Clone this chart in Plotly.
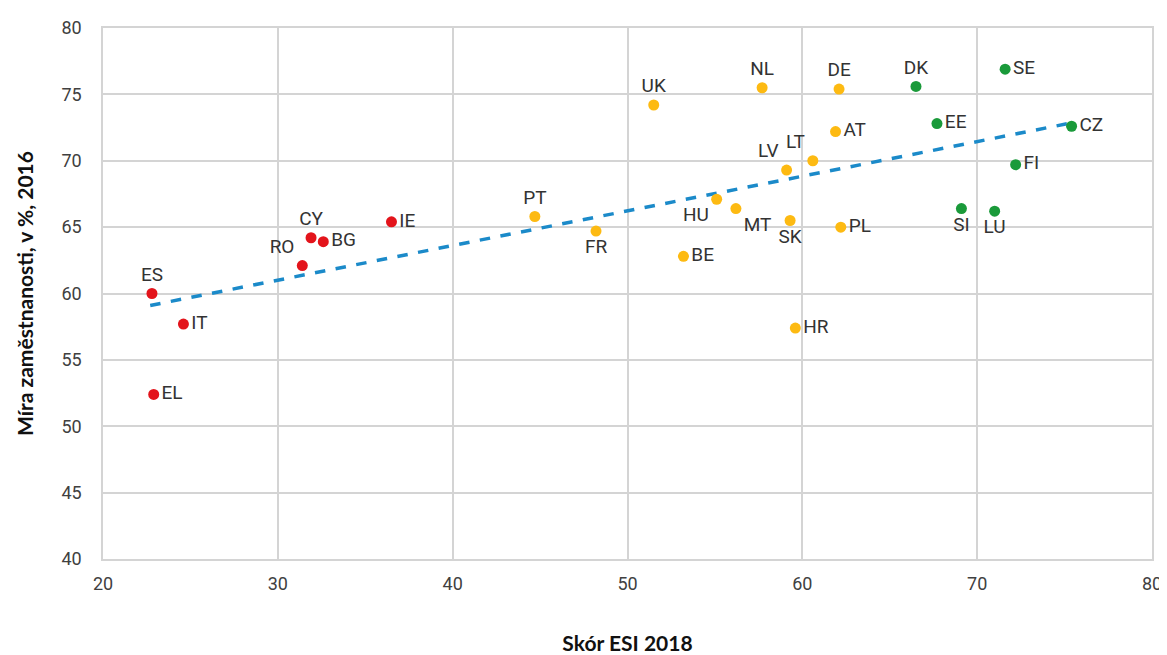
import plotly.graph_objects as go

# ---- data ----
countries = ["ES", "IT", "EL", "RO", "CY", "BG", "IE",
             "PT", "FR", "UK", "BE", "HU", "MT", "NL", "LV", "SK", "HR", "LT", "AT", "DE", "PL",
             "DK", "EE", "SI", "LU", "SE", "FI", "CZ"]
esi_score = [22.8, 24.6, 22.9, 31.4, 31.9, 32.6, 36.5,
             44.7, 48.2, 51.5, 53.2, 55.1, 56.2, 57.7, 59.1, 59.3, 59.6, 60.6, 61.9, 62.1, 62.2,
             66.5, 67.7, 69.1, 71.0, 71.6, 72.2, 75.4]
employment = [60.0, 57.7, 52.4, 62.1, 64.2, 63.9, 65.4,
              65.8, 64.7, 74.2, 62.8, 67.1, 66.4, 75.5, 69.3, 65.5, 57.4, 70.0, 72.2, 75.4, 65.0,
              75.6, 72.8, 66.4, 66.2, 76.9, 69.7, 72.6]
group = ["low"] * 7 + ["mid"] * 14 + ["high"] * 7
trend_x = [22.7, 75.2]
trend_y = [59.1, 72.8]

x_ticks = [20, 30, 40, 50, 60, 70, 80]
y_ticks = [40, 45, 50, 55, 60, 65, 70, 75, 80]

# ---- styles ----
colors = {"low": "#E3141B", "mid": "#FDBA12", "high": "#1A9A3A"}
label_pos = {
    "ES": "top center", "IT": "middle right", "EL": "middle right", "RO": "top left",
    "CY": "top center", "BG": "middle right", "IE": "middle right", "PT": "top center",
    "FR": "bottom center", "UK": "top center", "BE": "middle right", "HU": "bottom left",
    "MT": "bottom right", "NL": "top center", "LV": "top left", "SK": "bottom center",
    "HR": "middle right", "LT": "top left", "AT": "middle right", "DE": "top center",
    "PL": "middle right", "DK": "top center", "EE": "middle right", "SI": "bottom center",
    "LU": "bottom center", "SE": "middle right", "FI": "middle right", "CZ": "middle right",
}
narrow = "Roboto, Liberation Sans Narrow, sans-serif"
label_font = dict(family=narrow, size=19, color="#333333")

fig = go.Figure()

fig.add_trace(go.Scatter(
    x=trend_x, y=trend_y, mode="lines",
    line=dict(color="#1B8AC9", width=3.5, dash="dash"),
    hoverinfo="skip", showlegend=False,
))

for g in ["low", "mid", "high"]:
    idx = [i for i, gg in enumerate(group) if gg == g]
    fig.add_trace(go.Scatter(
        x=[esi_score[i] for i in idx],
        y=[employment[i] for i in idx],
        text=[countries[i] for i in idx],
        mode="markers+text",
        textposition=[label_pos[countries[i]] for i in idx],
        textfont=label_font,
        marker=dict(size=11, color=colors[g]),
        showlegend=False,
        cliponaxis=False,
    ))

axis_font = dict(family=narrow, size=18, color="#404040")
title_font = dict(family="Lato, Open Sans, sans-serif", size=21, color="#111111")

fig.update_layout(
    width=1159, height=647,
    margin=dict(l=95, r=15, t=20, b=96),
    paper_bgcolor="white", plot_bgcolor="white",
    xaxis=dict(
        range=[20, 80], tickvals=x_ticks, ticktext=[str(v) for v in x_ticks],
        showgrid=True, gridcolor="#d4d4d4", gridwidth=1.5,
        showline=True, linecolor="#d4d4d4", linewidth=1.5, mirror=True,
        zeroline=False, tickfont=axis_font, ticks="", ticklabelstandoff=8,
        automargin=False,
        title=dict(text="<b>Skór ESI 2018</b>", font=title_font, standoff=45),
    ),
    yaxis=dict(
        range=[40, 80], tickvals=y_ticks, ticktext=[str(v) for v in y_ticks],
        showgrid=True, gridcolor="#d4d4d4", gridwidth=1.5,
        showline=True, linecolor="#d4d4d4", linewidth=1.5, mirror=True,
        zeroline=False, tickfont=axis_font, ticks="", ticklabelstandoff=16,
        automargin=False,
        title=dict(text="<b>Míra zaměstnanosti, v %, 2016</b>", font=title_font, standoff=22),
    ),
)

fig.write_html("out.html")
